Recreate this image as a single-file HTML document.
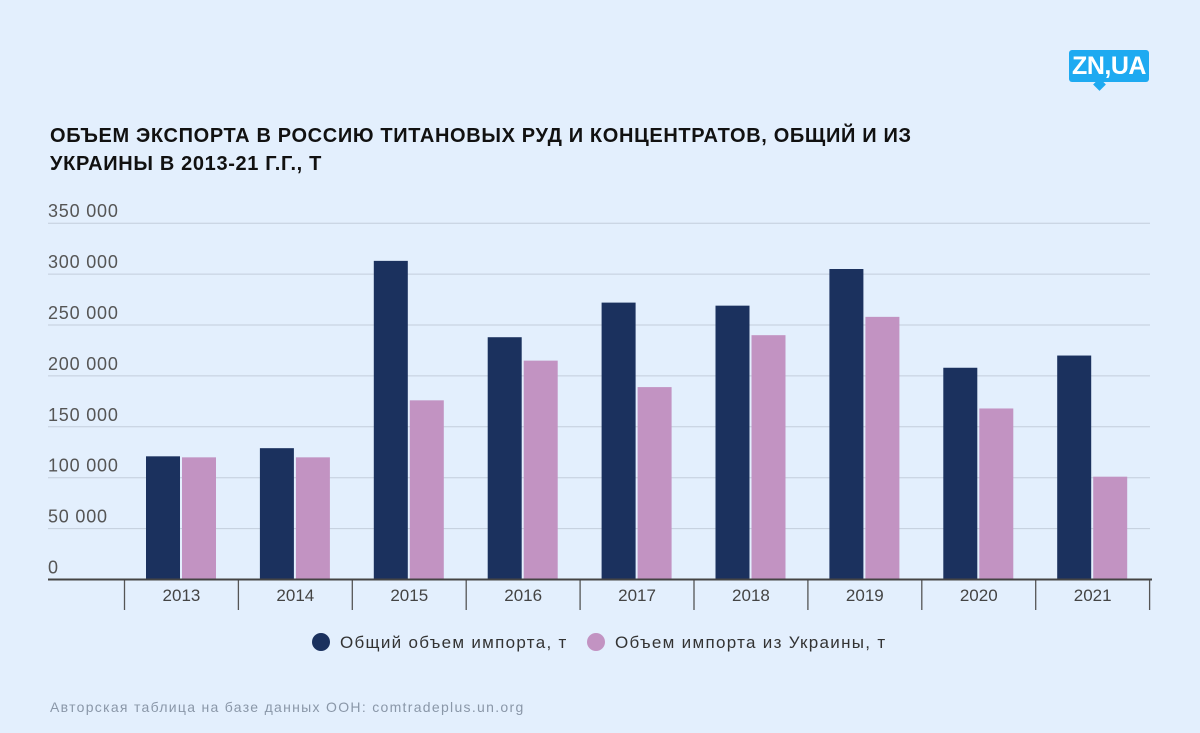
<!DOCTYPE html>
<html><head><meta charset="utf-8"><style>
body{margin:0;width:1200px;height:733px;background:#e3effd;font-family:"Liberation Sans",sans-serif;overflow:hidden;position:relative}
.title{position:absolute;left:50px;top:122px;font-size:20px;font-weight:bold;color:#111;line-height:28px;letter-spacing:0.65px}
.logo{position:absolute;left:1069px;top:50px;width:80px;height:32px;background:#1eaaf1;border-radius:3px;color:#fff;font-weight:bold;font-size:25px;line-height:33px;text-align:center;letter-spacing:-0.5px}
.tail{position:absolute;left:1095px;top:80px;width:9px;height:9px;background:#1eaaf1;transform:rotate(45deg)}
.src{position:absolute;left:50px;top:699px;font-size:14px;color:#8a97a8;letter-spacing:1.3px}
</style></head><body>
<div class="tail"></div>
<div class="logo">ZN,UA</div>
<div class="title">ОБЪЕМ ЭКСПОРТА В РОССИЮ ТИТАНОВЫХ РУД И КОНЦЕНТРАТОВ, ОБЩИЙ И ИЗ<br>УКРАИНЫ В 2013-21 Г.Г., Т</div>
<svg id="chart" width="1200" height="733" style="position:absolute;left:0;top:0"></svg>
<div class="src">Авторская таблица на базе данных ООН: comtradeplus.un.org</div>
<script>
const categories=["2013","2014","2015","2016","2017","2018","2019","2020","2021"];
const totalImport=[121000,129000,313000,238000,272000,269000,305000,208000,220000];
const ukraineImport=[120000,120000,176000,215000,189000,240000,258000,168000,101000];
const yTicks=[0,50000,100000,150000,200000,250000,300000,350000];
const yTickLabels=["0","50 000","100 000","150 000","200 000","250 000","300 000","350 000"];
const svg=document.getElementById('chart');
const NS='http://www.w3.org/2000/svg';
const y0=579.5,pxPer=50.9/50000,x0=124.5,band=113.9;
const y=v=>y0-v*pxPer;
const x=i=>x0+i*band;
function mk(t,a){const e=document.createElementNS(NS,t);for(const k in a)e.setAttribute(k,a[k]);svg.appendChild(e);return e;}
yTicks.forEach((v,i)=>{
  if(v>0){const l=mk('line',{x1:48,x2:1150,y1:y(v),y2:y(v),stroke:'#c3cedc','stroke-width':1});
  
  }
  const t=mk('text',{x:48,y:y(v)-6,'font-size':18,fill:'#555','letter-spacing':0.8,'font-family':'Liberation Sans, sans-serif'});
  t.textContent=yTickLabels[i];
  
  
});
categories.forEach((c,i)=>{
  const b1=mk('rect',{x:x(i)+21.5,y:y(totalImport[i]),width:34,height:y0-y(totalImport[i]),fill:'#1b315e'});
  
  
  const b2=mk('rect',{x:x(i)+57.5,y:y(ukraineImport[i]),width:34,height:y0-y(ukraineImport[i]),fill:'#c293c2'});
  
  
  const t=mk('text',{x:x(i)+band/2,y:601,'font-size':17,fill:'#444','text-anchor':'middle','font-family':'Liberation Sans, sans-serif'});
  t.textContent=c;
  
  
});
for(let i=0;i<=categories.length;i++){
  const d=mk('line',{x1:x(i),x2:x(i),y1:580,y2:610,stroke:'#555','stroke-width':1.3});
  
  
}
const ax=mk('line',{x1:48,x2:1152,y1:y0,y2:y0,stroke:'#444','stroke-width':2});


const legend=[["Общий объем импорта, т","#1b315e",321],["Объем импорта из Украины, т","#c293c2",596]];
legend.forEach(l=>{
  const c=mk('circle',{cx:l[2],cy:642,r:9,fill:l[1]});
  
  
  const t=mk('text',{x:l[2]+19,y:648,'font-size':17,fill:'#333','letter-spacing':1.3,'font-family':'Liberation Sans, sans-serif'});
  t.textContent=l[0];
  
  
});
</script>
</body></html>
